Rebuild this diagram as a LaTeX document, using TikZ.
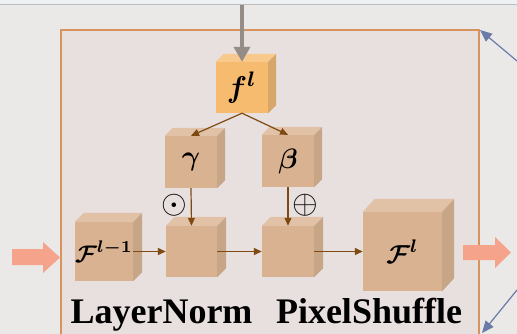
\documentclass[tikz,border=0pt]{standalone}
\usepackage{amsmath,bm}
\usepackage{graphicx}
\usepackage{fontspec}
\newfontfamily\lblfont{Liberation Serif}
\usetikzlibrary{arrows.meta,calc}
\definecolor{bgc}{HTML}{EBE8E8}
\definecolor{stripc}{HTML}{EEF1F4}
\definecolor{stripline}{HTML}{BDBDBD}
\definecolor{framefill}{HTML}{E8E0DE}
\definecolor{framedraw}{HTML}{D8935C}
\definecolor{tanfront}{HTML}{D9B291}
\definecolor{tantop}{HTML}{E1C2A7}
\definecolor{tanside}{HTML}{C7A587}
\definecolor{orfront}{HTML}{F7BB70}
\definecolor{ortop}{HTML}{F8C98C}
\definecolor{orside}{HTML}{D6A66A}
\definecolor{brownc}{HTML}{7E4A12}
\definecolor{grayc}{HTML}{958C87}
\definecolor{salmonc}{HTML}{F6A38B}
\definecolor{bluec}{HTML}{6A7BA8}
\tikzset{
  cubefront/.style={fill=#1front, draw=none, inner sep=0pt},
  cubelabel/.style={inner sep=0pt},
  brownarrow/.style={draw=brownc, line width=1.2pt, -{Triangle[length=8pt,width=7pt]}},
  grayarrow/.style={draw=grayc, line width=4pt, -{Triangle[length=15pt,width=16pt]}},
  bluearrow/.style={draw=bluec, line width=1.2pt, -{Triangle[length=12pt,width=10pt]}},
  opnode/.style={inner sep=0pt},
  lbl/.style={anchor=base, inner sep=0pt, font=\lblfont\bfseries\fontsize{36}{36}\selectfont}
}
\newcommand{\scaledmath}[2]{\scalebox{#1}{$#2$}}
% name, cx, cy, w, h, dx, dy, scheme, label
\newcommand{\mycube}[9]{%
  \node[cubefront=#8, minimum width=#4pt, minimum height=#5pt] (#1) at (#2,#3) {};
  \fill[#8top] (#1.north west) -- ++(#6,-#7) -- ([shift={(#6,-#7)}]#1.north east) -- (#1.north east) -- cycle;
  \fill[#8side] (#1.north east) -- ++(#6,-#7) -- ([shift={(#6,-#7)}]#1.south east) -- (#1.south east) -- cycle;
  \node[cubelabel] at (#1.center) {#9};
}
\begin{document}
\begin{tikzpicture}[x=1pt,y=-1pt]
\useasboundingbox (0,0) rectangle (517,334);
\fill[bgc] (0,0) rectangle (517,334);
\fill[stripc] (0,0) rectangle (517,4);
\draw[stripline, line width=1.5pt] (0,4.5) -- (517,4.5);
% frame
\draw[framedraw, fill=framefill, line width=2pt] (61,30) rectangle (479,345);
% cubes
\mycube{fl}{242}{87.5}{52}{51}{8}{8}{or}{\scaledmath{3.0}{\bm{f^{l}}}}
\mycube{gam}{191}{162}{52}{52}{8}{8}{tan}{\scaledmath{2.8}{\bm{\gamma}}}
\mycube{bet}{288}{161}{52}{52}{8}{8}{tan}{\scaledmath{2.8}{\bm{\beta}}}
\mycube{Fa}{104}{251.5}{58}{59}{9}{9}{tan}{\scaledmath{2.4}{\bm{\mathcal{F}^{l-1}}}}
\mycube{ma}{191.5}{251.5}{51}{51}{9}{9}{tan}{}
\mycube{mb}{288}{251.5}{52}{51}{9}{9}{tan}{}
\mycube{Fb}{402.5}{251.5}{79}{79}{12}{13}{tan}{\scaledmath{2.6}{\bm{\mathcal{F}^{l}}}}
% operators
\node[opnode] (odot) at (174,205) {\scaledmath{3.3}{\odot}};
\node[opnode] (oplus) at (305,205) {\scaledmath{3.3}{\oplus}};
% connectors
\draw[brownarrow] (fl.south) -- (gam.north);
\draw[brownarrow] (fl.south) -- (bet.north);
\draw[brownarrow] (gam.south) -- (ma.north);
\draw[brownarrow] (bet.south) -- (mb.north);
\draw[brownarrow] (Fa.east) -- (ma.west);
\draw[brownarrow] (ma.east) -- (mb.west);
\draw[brownarrow] (mb.east) -- (Fb.west);
% gray input arrow
\coordinate (gtop) at (242,5);
\draw[grayarrow] (gtop) -- (fl.north);
% salmon arrows
\fill[salmonc] (12,249) -- (43,249) -- (43,242) -- (60,257.5) -- (43,273) -- (43,265) -- (12,265) -- cycle;
\fill[salmonc] (463,245) -- (495,245) -- (495,237) -- (511,252.5) -- (495,268) -- (495,260) -- (463,260) -- cycle;
% blue arrows
\coordinate (ba1) at (517,61);
\coordinate (bt1) at (480,30);
\coordinate (ba2) at (517,290);
\coordinate (bt2) at (482,333);
\draw[bluearrow] (ba1) -- (bt1);
\draw[bluearrow] (ba2) -- (bt2);
% labels
\node[lbl] (ln) at (161.5,323) {LayerNorm};
\node[lbl] (ps) at (369,323) {PixelShuffle};
\end{tikzpicture}
\end{document}
